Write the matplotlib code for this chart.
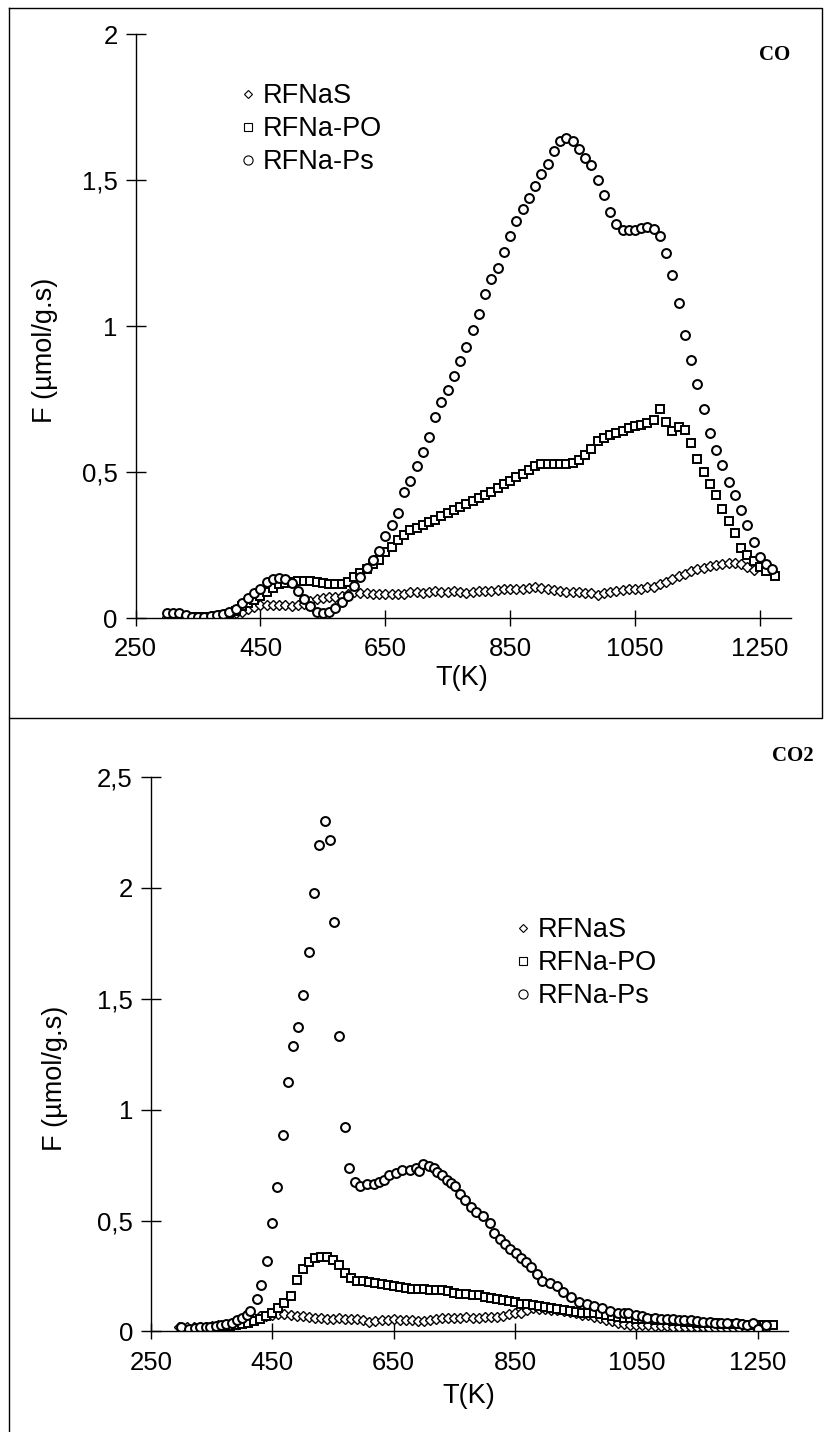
import numpy as np
import matplotlib
matplotlib.use("Agg")
import matplotlib.pyplot as plt
from matplotlib.lines import Line2D

plt.rcParams["font.family"] = ["Liberation Sans", "DejaVu Sans"]

# ---- CO panel (top) ----
co_s_T = [300, 310, 320, 330, 340, 350, 360, 370, 380, 390, 400, 410, 420, 430, 440, 450,
          460, 470, 480, 490, 500, 510, 520, 530, 540, 550, 560, 570, 580, 590, 600, 610,
          620, 630, 640, 650, 660, 670, 680, 690, 700, 710, 720, 730, 740, 750, 760, 770,
          780, 790, 800, 810, 820, 830, 840, 850, 860, 870, 880, 890, 900, 910, 920, 930,
          940, 950, 960, 970, 980, 990, 1000, 1010, 1020, 1030, 1040, 1050, 1060, 1070,
          1080, 1090, 1100, 1110, 1120, 1130, 1140, 1150, 1160, 1170, 1180, 1190, 1200,
          1210, 1220, 1230, 1240]
co_s_F = [0.002, 0.003, 0.004, 0.005, 0.005, 0.005, 0.005, 0.006, 0.008, 0.010, 0.013,
          0.017, 0.022, 0.030, 0.038, 0.044, 0.045, 0.045, 0.044, 0.044, 0.042, 0.043,
          0.048, 0.058, 0.066, 0.070, 0.072, 0.073, 0.077, 0.082, 0.088, 0.087, 0.085,
          0.083, 0.082, 0.083, 0.082, 0.084, 0.083, 0.088, 0.090, 0.087, 0.089, 0.092,
          0.090, 0.088, 0.092, 0.090, 0.087, 0.090, 0.093, 0.094, 0.092, 0.095, 0.100,
          0.100, 0.098, 0.100, 0.103, 0.106, 0.103, 0.100, 0.095, 0.092, 0.090, 0.090,
          0.088, 0.087, 0.085, 0.080, 0.085, 0.090, 0.093, 0.095, 0.098, 0.100, 0.100,
          0.105, 0.105, 0.115, 0.125, 0.135, 0.145, 0.152, 0.160, 0.168, 0.172, 0.178,
          0.183, 0.185, 0.187, 0.190, 0.185, 0.175, 0.165]

co_po_T = [330, 340, 350, 360, 370, 380, 390, 400, 410, 420, 430, 440, 450, 460, 470, 480,
           490, 500, 510, 520, 530, 540, 550, 560, 570, 580, 590, 600, 610, 620, 630, 640,
           650, 660, 670, 680, 690, 700, 710, 720, 730, 740, 750, 760, 770, 780, 790, 800,
           810, 820, 830, 840, 850, 860, 870, 880, 890, 900, 910, 920, 930, 940, 950, 960,
           970, 980, 990, 1000, 1010, 1020, 1030, 1040, 1050, 1060, 1070, 1080, 1090, 1100,
           1110, 1120, 1130, 1140, 1150, 1160, 1170, 1180, 1190, 1200, 1210, 1220, 1230,
           1240, 1250, 1260, 1275]
co_po_F = [0.002, 0.002, 0.002, 0.003, 0.005, 0.008, 0.010, 0.015, 0.025, 0.040, 0.050,
           0.062, 0.075, 0.090, 0.104, 0.115, 0.120, 0.125, 0.127, 0.127, 0.127, 0.125,
           0.120, 0.118, 0.116, 0.118, 0.125, 0.140, 0.155, 0.168, 0.185, 0.200, 0.225,
           0.245, 0.268, 0.285, 0.300, 0.310, 0.320, 0.328, 0.335, 0.348, 0.360, 0.370,
           0.380, 0.390, 0.400, 0.410, 0.420, 0.432, 0.445, 0.458, 0.470, 0.482, 0.495,
           0.508, 0.521, 0.526, 0.526, 0.526, 0.526, 0.528, 0.532, 0.542, 0.558, 0.580,
           0.605, 0.618, 0.627, 0.635, 0.640, 0.652, 0.658, 0.660, 0.668, 0.680, 0.715,
           0.670, 0.640, 0.655, 0.645, 0.600, 0.545, 0.500, 0.460, 0.420, 0.375, 0.333,
           0.290, 0.240, 0.215, 0.195, 0.175, 0.160, 0.143]

co_ps_T = [300, 310, 320, 330, 340, 350, 360, 370, 380, 390, 400, 410, 420, 430, 440, 450,
           460, 470, 480, 490, 500, 510, 520, 530, 540, 550, 560, 570, 580, 590, 600, 610,
           620, 630, 640, 650, 660, 670, 680, 690, 700, 710, 720, 730, 740, 750, 760, 770,
           780, 790, 800, 810, 820, 830, 840, 850, 860, 870, 880, 890, 900, 910, 920, 930,
           940, 950, 960, 970, 980, 990, 1000, 1010, 1020, 1030, 1040, 1050, 1060, 1070,
           1080, 1090, 1100, 1110, 1120, 1130, 1140, 1150, 1160, 1170, 1180, 1190, 1200,
           1210, 1220, 1230, 1240, 1250, 1260, 1270]
co_ps_F = [0.017, 0.017, 0.017, 0.010, 0.005, 0.005, 0.005, 0.008, 0.010, 0.015, 0.020,
           0.030, 0.050, 0.070, 0.085, 0.100, 0.125, 0.135, 0.138, 0.135, 0.120, 0.092,
           0.065, 0.040, 0.022, 0.017, 0.022, 0.035, 0.055, 0.075, 0.110, 0.140, 0.170,
           0.200, 0.230, 0.280, 0.320, 0.360, 0.430, 0.470, 0.520, 0.570, 0.620, 0.690,
           0.740, 0.780, 0.830, 0.880, 0.930, 0.985, 1.040, 1.110, 1.160, 1.200, 1.253,
           1.310, 1.360, 1.400, 1.440, 1.480, 1.520, 1.555, 1.600, 1.635, 1.645, 1.635,
           1.605, 1.575, 1.550, 1.500, 1.450, 1.390, 1.350, 1.330, 1.330, 1.330, 1.335,
           1.340, 1.334, 1.310, 1.250, 1.175, 1.080, 0.970, 0.885, 0.800, 0.715, 0.635,
           0.575, 0.525, 0.465, 0.420, 0.370, 0.320, 0.260, 0.210, 0.185, 0.167]

# ---- CO2 panel (bottom) ----
co2_s_T = [296, 310, 320, 330, 340, 350, 360, 370, 380, 390, 400, 410, 420, 430, 440, 450,
           460, 470, 480, 490, 500, 510, 520, 530, 540, 550, 560, 570, 580, 590, 600, 610,
           620, 630, 640, 650, 660, 670, 680, 690, 700, 710, 720, 730, 740, 750, 760, 770,
           780, 790, 800, 810, 820, 830, 840, 850, 860, 870, 880, 890, 900, 910, 920, 930,
           940, 950, 960, 970, 980, 990, 1000, 1010, 1020, 1030, 1040, 1050, 1060, 1070,
           1080, 1090, 1100, 1110, 1120, 1130, 1140, 1150, 1160, 1170, 1180, 1190, 1200,
           1210, 1220, 1230, 1240, 1250, 1265]
co2_s_F = [0.020, 0.020, 0.020, 0.020, 0.022, 0.025, 0.028, 0.030, 0.034, 0.040, 0.048,
           0.055, 0.062, 0.068, 0.072, 0.076, 0.079, 0.080, 0.076, 0.072, 0.068, 0.065,
           0.062, 0.060, 0.058, 0.058, 0.060, 0.058, 0.056, 0.058, 0.050, 0.041, 0.048,
           0.052, 0.050, 0.054, 0.052, 0.050, 0.052, 0.048, 0.046, 0.052, 0.058, 0.060,
           0.062, 0.060, 0.062, 0.064, 0.062, 0.060, 0.064, 0.066, 0.064, 0.070, 0.078,
           0.083, 0.083, 0.095, 0.104, 0.102, 0.100, 0.098, 0.096, 0.093, 0.088, 0.082,
           0.076, 0.073, 0.066, 0.060, 0.052, 0.046, 0.040, 0.035, 0.031, 0.030, 0.028,
           0.027, 0.025, 0.024, 0.023, 0.022, 0.021, 0.020, 0.019, 0.018, 0.018, 0.017,
           0.017, 0.017, 0.017, 0.017, 0.016, 0.012, 0.006, 0.000, 0.020]

co2_po_T = [331, 340, 350, 360, 370, 380, 390, 400, 410, 420, 430, 440, 450, 460, 470, 480,
            490, 500, 510, 520, 530, 540, 550, 560, 570, 580, 590, 600, 610, 620, 630, 640,
            650, 660, 670, 680, 690, 700, 710, 720, 730, 740, 750, 760, 770, 780, 790, 800,
            810, 820, 830, 840, 850, 860, 870, 880, 890, 900, 910, 920, 930, 940, 950, 960,
            970, 980, 990, 1000, 1010, 1020, 1030, 1040, 1050, 1060, 1070, 1080, 1090, 1100,
            1110, 1120, 1130, 1140, 1150, 1160, 1170, 1180, 1190, 1200, 1210, 1220, 1230,
            1240, 1250, 1260, 1276]
co2_po_F = [0.000, 0.005, 0.010, 0.015, 0.020, 0.025, 0.030, 0.035, 0.040, 0.048, 0.058,
            0.070, 0.085, 0.104, 0.130, 0.160, 0.230, 0.280, 0.315, 0.330, 0.334, 0.336,
            0.322, 0.300, 0.265, 0.239, 0.228, 0.226, 0.222, 0.218, 0.215, 0.211, 0.207,
            0.200, 0.196, 0.192, 0.191, 0.191, 0.189, 0.187, 0.185, 0.183, 0.175, 0.170,
            0.167, 0.166, 0.163, 0.155, 0.149, 0.145, 0.141, 0.137, 0.133, 0.126, 0.122,
            0.120, 0.116, 0.112, 0.106, 0.102, 0.098, 0.094, 0.090, 0.085, 0.083, 0.083,
            0.078, 0.073, 0.068, 0.064, 0.062, 0.060, 0.058, 0.056, 0.055, 0.053, 0.052,
            0.050, 0.048, 0.045, 0.043, 0.041, 0.040, 0.039, 0.038, 0.037, 0.035, 0.034,
            0.033, 0.032, 0.031, 0.031, 0.031, 0.031, 0.031]

co2_ps_T = [300, 313, 322, 331, 340, 348, 357, 365, 374, 383, 391, 400, 408, 413, 424, 432,
            441, 449, 458, 467, 475, 484, 493, 501, 510, 519, 527, 536, 545, 552, 560, 569,
            577, 586, 595, 606, 617, 625, 634, 643, 653, 664, 677, 686, 692, 699, 708, 716,
            722, 729, 738, 745, 751, 760, 768, 777, 786, 797, 808, 816, 825, 833, 842, 851,
            860, 868, 877, 886, 894, 907, 920, 929, 942, 955, 968, 981, 994, 1007, 1020,
            1030, 1037, 1050, 1060, 1068, 1080, 1090, 1100, 1110, 1120, 1128, 1140, 1150,
            1160, 1172, 1180, 1190, 1200, 1215, 1225, 1232, 1242, 1250, 1263]
co2_ps_F = [0.020, 0.010, 0.015, 0.020, 0.020, 0.020, 0.025, 0.030, 0.035, 0.040, 0.050,
            0.060, 0.075, 0.093, 0.145, 0.210, 0.317, 0.488, 0.650, 0.888, 1.124, 1.286,
            1.373, 1.515, 1.712, 1.977, 2.193, 2.303, 2.214, 1.846, 1.332, 0.923, 0.736,
            0.674, 0.654, 0.664, 0.664, 0.674, 0.685, 0.705, 0.716, 0.726, 0.726, 0.736,
            0.725, 0.757, 0.747, 0.736, 0.720, 0.705, 0.685, 0.668, 0.654, 0.622, 0.591,
            0.560, 0.539, 0.519, 0.488, 0.446, 0.415, 0.394, 0.373, 0.353, 0.332, 0.311,
            0.290, 0.259, 0.228, 0.218, 0.207, 0.176, 0.156, 0.135, 0.124, 0.114, 0.104,
            0.093, 0.083, 0.085, 0.083, 0.073, 0.068, 0.062, 0.060, 0.057, 0.055, 0.054,
            0.053, 0.052, 0.050, 0.047, 0.044, 0.041, 0.040, 0.039, 0.038, 0.037, 0.035,
            0.031, 0.040, 0.010, 0.031]

labels = ["RFNaS", "RFNa-PO", "RFNa-Ps"]
xticks = [250, 450, 650, 850, 1050, 1250]

fig = plt.figure(figsize=(8.24, 14.32), dpi=100)

# panel frames
fig.add_artist(Line2D([0.011, 0.997, 0.997, 0.011, 0.011],
                      [0.9945, 0.9945, 0.4986, 0.4986, 0.9945],
                      transform=fig.transFigure, color="black", lw=1))
fig.add_artist(Line2D([0.011, 0.011], [0.4986, 0.0], transform=fig.transFigure,
                      color="black", lw=1))

# marker, plot size, plot edge, legend size
styles = [("D", 4.6, 1.0, 4.4), ("s", 6.4, 1.4, 6.4), ("o", 6.4, 1.45, 6.6)]


def draw_panel(ax, series, ymax, yticklabels, title, title_xy, leg_anchor, ylab_xy, xlab_xy):
    handles = []
    for (T, F), lab, (m, ms, mew, lms) in zip(series, labels, styles):
        ax.plot(T, F, linestyle="none", marker=m, markersize=ms, markeredgewidth=mew,
                markerfacecolor="white", markeredgecolor="black")
        handles.append(Line2D([], [], linestyle="none", marker=m, markersize=lms,
                              markeredgewidth=0.8, markerfacecolor="white",
                              markeredgecolor="black", label=lab))
    ax.set_xlim(250, 1300)
    ax.set_ylim(0, ymax)
    ax.set_xticks(xticks)
    yt = np.arange(0, ymax + 0.01, 0.5)
    ax.set_yticks(yt)
    ax.set_yticklabels(yticklabels)
    for side in ["top", "right"]:
        ax.spines[side].set_visible(False)
    for side in ["left", "bottom"]:
        ax.spines[side].set_linewidth(1.0)
    ax.tick_params(direction="inout", length=14, width=1.0, labelsize=18.5, pad=6)
    ax.tick_params(axis="x", length=12, pad=8)
    ax.set_ylabel("F (µmol/g.s)", fontsize=19.5)
    ax.yaxis.set_label_coords(*ylab_xy)
    ax.yaxis.label.set_va("center")
    ax.set_xlabel("T(K)", fontsize=19.5)
    ax.xaxis.set_label_coords(*xlab_xy)
    ax.xaxis.label.set_va("center")
    ax.text(title_xy[0], title_xy[1], title, transform=fig.transFigure, ha="center",
            va="center", fontsize=15, fontweight="bold", family="Liberation Serif")
    ax.legend(handles=handles, loc="upper left", bbox_to_anchor=leg_anchor,
              bbox_transform=fig.transFigure, frameon=False, fontsize=19.5,
              handlelength=0.5, handletextpad=0.3, labelspacing=0.26,
              borderpad=0, borderaxespad=0)


ax1 = fig.add_axes([0.1646, 0.5684, 0.7954, 0.4078])
draw_panel(ax1, [(co_s_T, co_s_F), (co_po_T, co_po_F), (co_ps_T, co_ps_F)], 2.0,
           ["0", "0,5", "1", "1,5", "2"], "CO", (775 / 824, 1 - 55 / 1432),
           (241 / 824, 1 - 83 / 1432), (-0.138, 0.459), (0.498, -0.103))

ax2 = fig.add_axes([0.1833, 0.0702, 0.7730, 0.3872])
draw_panel(ax2, [(co2_s_T, co2_s_F), (co2_po_T, co2_po_F), (co2_ps_T, co2_ps_F)], 2.5,
           ["0", "0,5", "1", "1,5", "2", "2,5"], "CO2", (793 / 824, 1 - 756 / 1432),
           (516 / 824, 1 - 917 / 1432), (-0.151, 0.457), (0.499, -0.116))

fig.savefig("out.png", dpi=100, facecolor="white")
